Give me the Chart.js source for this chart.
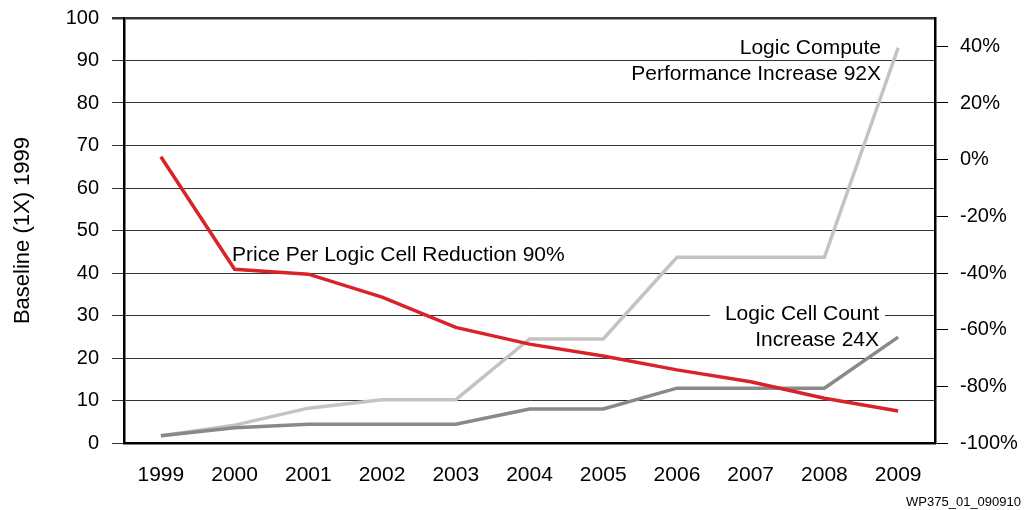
<!DOCTYPE html>
<html><head><meta charset="utf-8">
<script src="https://cdn.jsdelivr.net/npm/chart.js@4.4.0/dist/chart.umd.min.js"></script>
<style>html,body{margin:0;padding:0;background:#fff}#wrap{width:1034px;height:510px;position:relative}</style>
</head><body><div id="wrap"><canvas id="c"></canvas></div>
<script>
const years = ['1999','2000','2001','2002','2003','2004','2005','2006','2007','2008','2009'];
const pricePct = [1, -38.7, -40.4, -48.5, -59.2, -65.1, -69.3, -74.2, -78.4, -84.2, -88.7];
const performanceX = [1.7, 4.2, 8.2, 10.2, 10.2, 24.5, 24.5, 43.7, 43.7, 43.7, 93];
const cellCountX = [1.7, 3.6, 4.4, 4.4, 4.4, 8.0, 8.0, 12.9, 12.9, 12.9, 24.9];
const leftTicks = [0,10,20,30,40,50,60,70,80,90,100];
const rightTicks = [-100,-80,-60,-40,-20,0,20,40];
const yTitle = 'Baseline (1X) 1999';
const footer = 'WP375_01_090910';

const FONT = '"Liberation Sans", Arial, Helvetica, sans-serif';

const annotations = {
  id: 'annotations',
  beforeDatasetsDraw(chart) {
    const ctx = chart.ctx;
    ctx.save();
    ctx.fillStyle = '#fff';
    ctx.fillRect(710, 302, 175, 24);
    ctx.restore();
  },
  afterDatasetsDraw(chart) {
    const ctx = chart.ctx;
    ctx.save();
    ctx.fillStyle = '#000';
    ctx.font = '21px ' + FONT;
    ctx.textBaseline = 'middle';
    ctx.textAlign = 'right';
    ctx.fillText('Logic Compute', 881, 48);
    ctx.fillText('Performance Increase 92X', 881, 74);
    ctx.fillText('Logic Cell Count', 879, 314);
    ctx.fillText('Increase 24X', 879, 340);
    ctx.textAlign = 'left';
    ctx.fillText('Price Per Logic Cell Reduction 90%', 232, 255);
    ctx.restore();
  },
  afterDraw(chart) {
    const ctx = chart.ctx;
    ctx.save();
    ctx.fillStyle = '#000';
    ctx.font = '13px ' + FONT;
    ctx.textBaseline = 'middle';
    ctx.textAlign = 'right';
    ctx.fillText(footer, 1021, 502);
    ctx.restore();
  }
};

new Chart(document.getElementById('c'), {
  type: 'line',
  data: {
    labels: years,
    datasets: [
      { label: 'Price Per Logic Cell', data: pricePct, yAxisID: 'yR', borderColor: '#d9232b', borderWidth: 3.5 },
      { label: 'Logic Cell Count', data: cellCountX, yAxisID: 'y', borderColor: '#898989', borderWidth: 3.5 },
      { label: 'Logic Compute Performance', data: performanceX, yAxisID: 'y', borderColor: '#c3c3c3', borderWidth: 3.5 }
    ]
  },
  options: {
    responsive: true,
    maintainAspectRatio: false,
    animation: false,
    devicePixelRatio: 1,
    layout: { padding: { top: 18, left: 0, right: 0, bottom: 0 } },
    elements: { point: { radius: 0, hoverRadius: 0 }, line: { tension: 0, borderJoinStyle: 'miter', borderCapStyle: 'butt', fill: false } },
    plugins: { legend: { display: false }, tooltip: { enabled: false } },
    scales: {
      x: {
        offset: true,
        grid: { display: false, drawTicks: false },
        border: { display: true, color: '#000', width: 2.5 },
        ticks: { color: '#000', font: { family: FONT, size: 21 }, padding: 20, maxRotation: 0, autoSkip: false },
        afterFit(s) { s.height = 67; s.paddingLeft = 0; s.paddingRight = 0; }
      },
      y: {
        position: 'left',
        min: 0, max: 100,
        afterBuildTicks(s) { s.ticks = leftTicks.map(v => ({ value: v })); },
        grid: {
          color: '#333',
          lineWidth: c => (c.tick && c.tick.value === 100) ? 2.5 : 1,
          tickLength: 12,
          tickColor: '#333'
        },
        border: { display: true, color: '#000', width: 2.5 },
        ticks: { color: '#000', font: { family: FONT, size: 20 }, padding: 13 },
        title: { display: true, text: yTitle, color: '#000', font: { family: FONT, size: 22 }, padding: { top: 10, bottom: 0 } },
        afterFit(s) { s.width = 124; s.paddingTop = 0; s.paddingBottom = 0; }
      },
      yR: {
        position: 'right',
        min: -100, max: 50,
        afterBuildTicks(s) { s.ticks = rightTicks.map(v => ({ value: v })); },
        grid: { drawOnChartArea: false, tickLength: 13, color: '#000', tickColor: '#000', lineWidth: 1 },
        border: { display: true, color: '#000', width: 2.5 },
        ticks: { color: '#000', font: { family: FONT, size: 20 }, padding: 12, callback: v => v + '%' },
        afterFit(s) { s.width = 99; s.paddingTop = 0; s.paddingBottom = 0; }
      }
    }
  },
  plugins: [annotations]
});
</script></body></html>
